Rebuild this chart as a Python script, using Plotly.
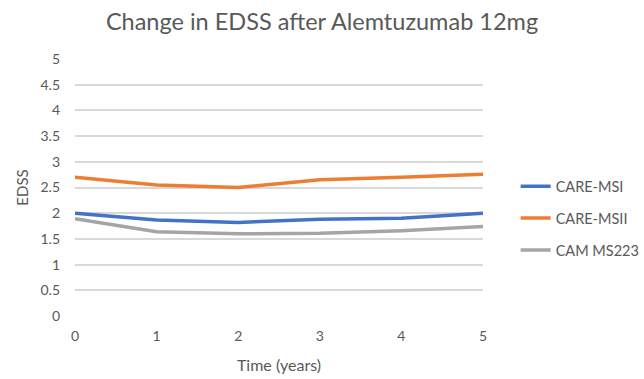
import plotly.graph_objects as go

# EDSS over time after Alemtuzumab 12mg, by trial
years = [0, 1, 2, 3, 4, 5]
care_ms1 = [2.00, 1.87, 1.82, 1.88, 1.90, 2.00]
care_ms2 = [2.70, 2.55, 2.50, 2.65, 2.70, 2.76]
cam_ms223 = [1.89, 1.64, 1.60, 1.61, 1.66, 1.74]

series = [
    ("CARE-MSI", care_ms1, "#4472C4"),
    ("CARE-MSII", care_ms2, "#ED7D31"),
    ("CAM MS223", cam_ms223, "#A5A5A5"),
]

y_ticks = [0, 0.5, 1, 1.5, 2, 2.5, 3, 3.5, 4, 4.5, 5]
x_ticks = [0, 1, 2, 3, 4, 5]

FONT = "Lato"
TEXT = "#595959"

fig = go.Figure()
for name, vals, color in series:
    fig.add_trace(go.Scatter(
        x=years, y=vals, name=name, mode="lines",
        line=dict(color=color, width=3.5),
        legendgroup=name,
    ))

fig.update_layout(
    width=644, height=379,
    paper_bgcolor="white", plot_bgcolor="white",
    margin=dict(l=75, r=161, t=59, b=63, autoexpand=False),
    font=dict(family=FONT, color=TEXT, size=14),
    title=dict(
        text="Change in EDSS after Alemtuzumab 12mg",
        font=dict(family=FONT, size=23.5, color=TEXT),
        x=0.5, xanchor="center", xref="container",
        y=1 - 22 / 379, yanchor="middle",
    ),
    showlegend=True,
    legend=dict(
        x=1.08, xanchor="left",
        y=0.38, yanchor="middle",
        font=dict(family=FONT, size=14.5, color=TEXT),
        tracegroupgap=10,
        itemwidth=30,
        bgcolor="rgba(0,0,0,0)",
    ),
    xaxis=dict(
        range=[0, 5],
        tickvals=x_ticks,
        ticktext=[str(v) for v in x_ticks],
        showgrid=False, zeroline=False, showline=False,
        ticks="", ticklen=0, ticklabelstandoff=10,
        tickfont=dict(family=FONT, size=14, color=TEXT),
        title=dict(text="Time (years)", font=dict(family=FONT, size=16, color=TEXT), standoff=16),
    ),
    yaxis=dict(
        range=[0, 5],
        tickvals=y_ticks,
        ticktext=[("%g" % v) for v in y_ticks],
        showgrid=True, gridcolor="#D9D9D9", gridwidth=1.5,
        zeroline=False, showline=False,
        ticks="", ticklabelstandoff=14,
        tickfont=dict(family=FONT, size=14, color=TEXT),
        title=dict(text="EDSS", font=dict(family=FONT, size=15, color=TEXT), standoff=8),
    ),
)

fig.write_html("out.html")
